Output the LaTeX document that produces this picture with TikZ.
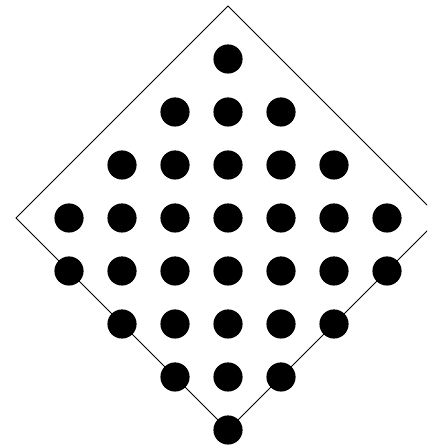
\documentclass[tikz,border=0pt]{standalone}
\begin{document}
\begin{tikzpicture}[x=1cm, y=1cm, line width=0.5pt, dot/.style={circle, fill=black, inner sep=0pt, minimum size=5.5mm}]
        \clip (-4.302,-4.302) rectangle (3.755,4.113);
        \useasboundingbox (-4.302,-4.302) rectangle (3.755,4.113);
        \coordinate (top) at (0,4);
        \coordinate (right) at (4,0);
        \coordinate (bottom) at (0,-4);
        \coordinate (left) at (-4,0);
        \draw (top) -- (right) -- (bottom) -- (left) -- cycle;
        \foreach \row/\n [count=\r] in {3/0, 2/1, 1/2, 0/3, -1/3, -2/2, -3/1, -4/0}
            \foreach \col [count=\c] in {-\n,...,\n}
                \node[dot] (dot\r-\c) at (\col,\row) {};
    \end{tikzpicture}
\end{document}
